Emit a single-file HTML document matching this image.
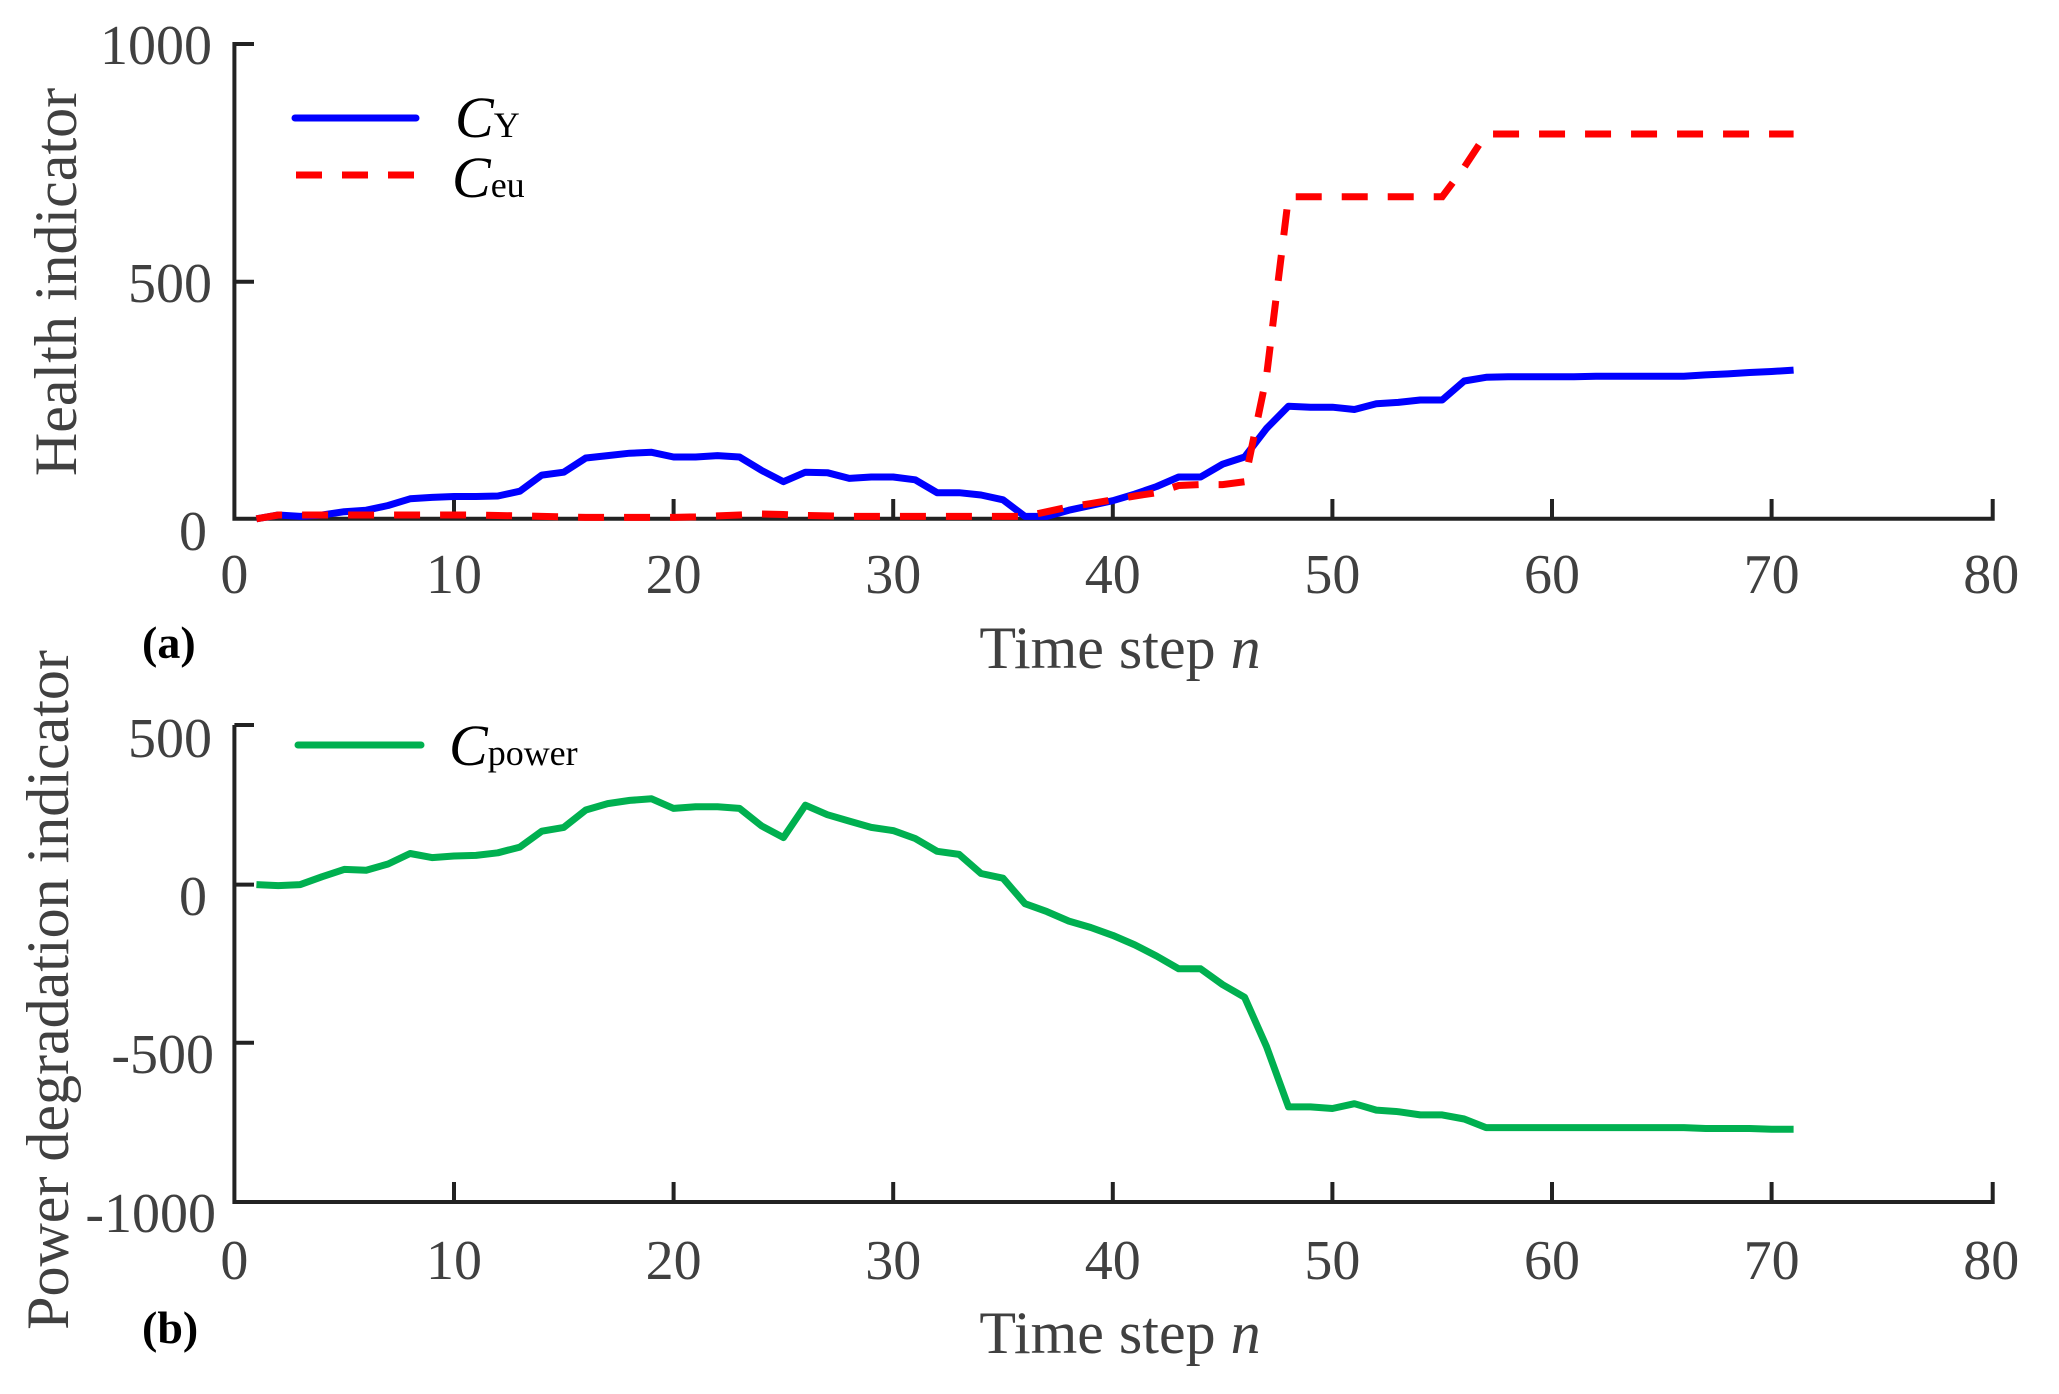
<!DOCTYPE html>
<html><head><meta charset="utf-8"><style>
html,body{margin:0;padding:0;background:#fff;}
svg{display:block;font-family:"Liberation Serif",serif;}
.t{fill:#404040;font-size:56px;}
.l{fill:#404040;font-size:60px;}
</style></head><body>
<svg id="s" width="2059" height="1394" viewBox="0 0 2059 1394" xmlns="http://www.w3.org/2000/svg">
<g stroke="#222" stroke-width="4" fill="none">
<path d="M254,44 H234.4 V518.8 H1992.7 V499"/>
<path d="M234.4,281.7 H254"/>
<path d="M234.4,725 H254 M234.4,884.6 H254 M234.4,1042.7 H254"/>
<path d="M234.4,725 V1202 H1992.7 V1182"/>
</g>
<g id="ticks" stroke="#222" stroke-width="4"></g>
<g class="t" text-anchor="end">
<text x="212" y="64">1000</text><text x="212" y="302">500</text><text x="207" y="550">0</text>
<text x="212" y="757">500</text><text x="207" y="915">0</text><text x="214" y="1073">-500</text><text x="216" y="1232">-1000</text>
</g>
<g id="xl" class="t" text-anchor="middle"></g>
<text class="l" x="1120" y="668" text-anchor="middle">Time step <tspan font-style="italic">n</tspan></text>
<text class="l" x="1120" y="1353" text-anchor="middle">Time step <tspan font-style="italic">n</tspan></text>
<text x="142" y="658" font-size="46" font-weight="bold" fill="#000">(a)</text>
<text x="142" y="1343" font-size="46" font-weight="bold" fill="#000">(b)</text>
<text class="l" transform="translate(76,282) rotate(-90)" text-anchor="middle">Health indicator</text>
<text class="l" transform="translate(68,990) rotate(-90)" text-anchor="middle">Power degradation indicator</text>
<line x1="295" y1="118" x2="416" y2="118" stroke="#0000ff" stroke-width="7" stroke-linecap="round"/>
<line x1="296" y1="175" x2="416" y2="175" stroke="#ff0000" stroke-width="7" stroke-dasharray="26,20"/>
<line x1="298" y1="745" x2="421" y2="745" stroke="#00b050" stroke-width="7" stroke-linecap="round"/>
<text x="455" y="137" font-size="58" font-style="italic" fill="#000">C<tspan font-size="36" font-style="normal">Y</tspan></text>
<text x="452" y="197" font-size="58" font-style="italic" fill="#000">C<tspan font-size="36" font-style="normal">eu</tspan></text>
<text x="449" y="765" font-size="58" font-style="italic" fill="#000">C<tspan font-size="36" font-style="normal">power</tspan></text>
<polyline id="cy" fill="none" stroke="#0000ff" stroke-width="7" stroke-linejoin="round"/>
<polyline id="ceu" fill="none" stroke="#ff0000" stroke-width="7" stroke-dasharray="26,20"/>
<polyline id="cp" fill="none" stroke="#00b050" stroke-width="7" stroke-linejoin="round"/>
</svg>
<script>
var X=function(n){return 234.4+21.96*n;};
var tk='',xl='';
for(var i=1;i<=7;i++){var x=X(i*10);tk+='<line x1="'+x+'" y1="518.8" x2="'+x+'" y2="499"/><line x1="'+x+'" y1="1202" x2="'+x+'" y2="1182"/>';}
document.getElementById('ticks').innerHTML=tk;
for(var i=0;i<=8;i++){var x=X(i*10);xl+='<text x="'+x+'" y="593">'+(i*10)+'</text><text x="'+x+'" y="1279">'+(i*10)+'</text>';}
document.getElementById('xl').innerHTML=xl;
var cy=[0,8,5,8,15,18,28,42,45,47,47,48,58,92,98,128,133,138,140,130,130,133,130,102,78,98,97,85,88,88,82,55,55,50,40,5,5,18,28,38,52,68,88,88,115,130,190,237,235,235,230,242,245,250,250,290,298,299,299,299,299,300,300,300,300,300,303,305,308,310,313];
var ceu=[0,8,8,8,8,8,8,8,8,8,8,7,6,5,4,3,3,3,3,3,4,6,8,10,9,7,6,5,5,5,5,5,5,5,5,5,15,25,32,40,48,55,70,72,72,78,300,678,678,678,678,678,678,678,678,740,810,810,810,810,810,810,810,810,810,810,810,810,810,810,810];
var cp=[0,-3,0,25,48,45,65,98,85,90,92,100,118,168,180,235,255,265,270,240,245,245,240,185,148,250,220,200,180,170,145,105,95,35,20,-60,-85,-115,-135,-160,-190,-225,-265,-265,-315,-355,-510,-700,-700,-705,-690,-710,-715,-725,-725,-738,-765,-765,-765,-765,-765,-765,-765,-765,-765,-765,-768,-768,-768,-770,-770];
function pts(a,y0,k){return a.map(function(v,i){return X(i+1).toFixed(1)+','+(y0-k*v).toFixed(1);}).join(' ');}
document.getElementById('cy').setAttribute('points',pts(cy,518.8,0.475));
document.getElementById('ceu').setAttribute('points',pts(ceu,518.8,0.475));
document.getElementById('cp').setAttribute('points',pts(cp,884.6,0.3176));
</script>
</body></html>
